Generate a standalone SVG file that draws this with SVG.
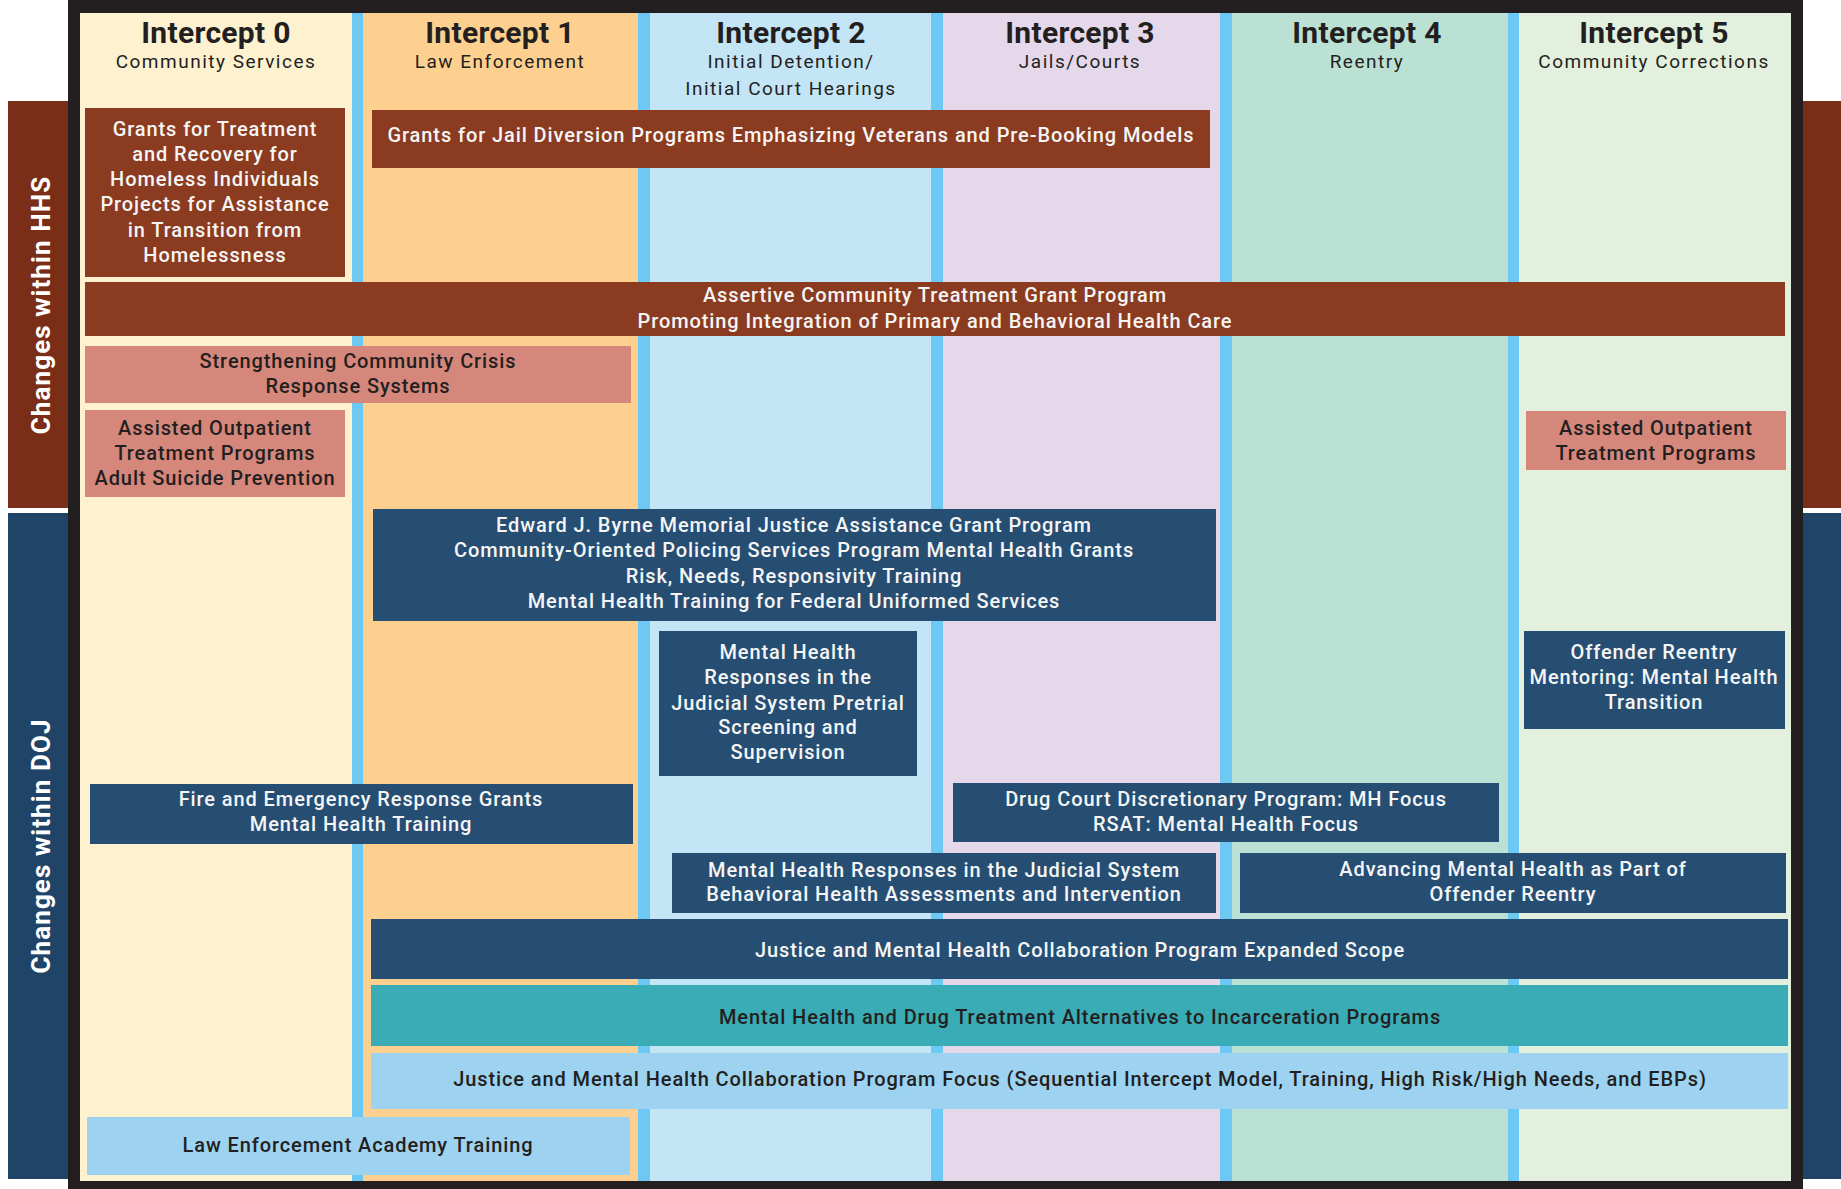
<svg xmlns="http://www.w3.org/2000/svg" width="1841" height="1189" viewBox="0 0 1841 1189">
<style>
text{font-family:Roboto,"Liberation Sans",sans-serif;text-anchor:middle}
.ttl{font-size:30px;font-weight:700;fill:#231f20;letter-spacing:0.3px}
.sub{font-size:19px;font-weight:400;fill:#231f20;letter-spacing:1.5px}
.w{font-size:20px;font-weight:500;fill:#f5f5f5;letter-spacing:0.9px}
.d{font-size:20px;font-weight:500;fill:#231f20;letter-spacing:0.9px}
.side{font-size:26px;font-weight:700;fill:#ffffff;letter-spacing:1.1px}
.brown{fill:#8b3b1f}
.salmon{fill:#d6877b}
.navy{fill:#264e72}
.teal{fill:#3aacb6}
.lblue{fill:#9dd3f0}
.div{fill:#6dc8f3}
</style>
<rect width="1841" height="1189" fill="#ffffff"/>
<g id="side-labels">
<rect x="8" y="101" width="61" height="407" fill="#7a2d17"/>
<rect x="8" y="513" width="61" height="666" fill="#1f4467"/>
<rect x="1802" y="101" width="39" height="407" fill="#7a2d17"/>
<rect x="1802" y="513" width="39" height="666" fill="#1f4467"/>
<text class="side" transform="translate(50,305) rotate(-90)">Changes within HHS</text>
<text class="side" transform="translate(50,846) rotate(-90)">Changes within DOJ</text>
</g>
<g id="frame">
<rect x="68" y="0" width="1735" height="1189" fill="#231f20"/>
</g>
<g id="columns">
<rect x="80" y="13" width="272" height="1168" fill="#fdf1cf"/>
<rect x="363" y="13" width="275" height="1168" fill="#fdd08f"/>
<rect x="650" y="13" width="281" height="1168" fill="#c4e5f5"/>
<rect x="943" y="13" width="277" height="1168" fill="#e5d8eb"/>
<rect x="1232" y="13" width="276" height="1168" fill="#bbe1d5"/>
<rect x="1519" y="13" width="272" height="1168" fill="#e2f0dd"/>
<rect class="div" x="352" y="13" width="11" height="1168"/>
<rect class="div" x="638" y="13" width="12" height="1168"/>
<rect class="div" x="931" y="13" width="12" height="1168"/>
<rect class="div" x="1220" y="13" width="12" height="1168"/>
<rect class="div" x="1508" y="13" width="11" height="1168"/>
</g>
<g id="headers">
<g id="intercept-0"><text class="ttl" x="216" y="43">Intercept 0</text><text class="sub" x="216" y="68">Community Services</text></g>
<g id="intercept-1"><text class="ttl" x="500" y="43">Intercept 1</text><text class="sub" x="500" y="68">Law Enforcement</text></g>
<g id="intercept-2"><text class="ttl" x="791" y="43">Intercept 2</text><text class="sub" x="791" y="68">Initial Detention/</text><text class="sub" x="791" y="95">Initial Court Hearings</text></g>
<g id="intercept-3"><text class="ttl" x="1080" y="43">Intercept 3</text><text class="sub" x="1080" y="68">Jails/Courts</text></g>
<g id="intercept-4"><text class="ttl" x="1367" y="43">Intercept 4</text><text class="sub" x="1367" y="68">Reentry</text></g>
<g id="intercept-5"><text class="ttl" x="1654" y="43">Intercept 5</text><text class="sub" x="1654" y="68">Community Corrections</text></g>
</g>
<g id="connectors"></g>
<g id="grants-treatment"><rect class="brown" x="85" y="108" width="260" height="169"/>
<text class="w" x="215" y="136">Grants for Treatment</text><text class="w" x="215" y="161">and Recovery for</text><text class="w" x="215" y="186">Homeless Individuals</text><text class="w" x="215" y="211">Projects for Assistance</text><text class="w" x="215" y="237">in Transition from</text><text class="w" x="215" y="262">Homelessness</text></g>
<g id="jail-diversion"><rect class="brown" x="372" y="110" width="838" height="58"/>
<text class="w" x="791" y="142">Grants for Jail Diversion Programs Emphasizing Veterans and Pre-Booking Models</text></g>
<g id="assertive"><rect class="brown" x="85" y="282" width="1700" height="54"/>
<text class="w" x="935" y="302">Assertive Community Treatment Grant Program</text><text class="w" x="935" y="328">Promoting Integration of Primary and Behavioral Health Care</text></g>
<g id="crisis"><rect class="salmon" x="85" y="346" width="546" height="57"/>
<text class="d" x="358" y="368">Strengthening Community Crisis</text><text class="d" x="358" y="393">Response Systems</text></g>
<g id="aot-left"><rect class="salmon" x="85" y="410" width="260" height="87"/>
<text class="d" x="215" y="435">Assisted Outpatient</text><text class="d" x="215" y="460">Treatment Programs</text><text class="d" x="215" y="485">Adult Suicide Prevention</text></g>
<g id="aot-right"><rect class="salmon" x="1526" y="411" width="260" height="59"/>
<text class="d" x="1656" y="435">Assisted Outpatient</text><text class="d" x="1656" y="460">Treatment Programs</text></g>
<g id="byrne"><rect class="navy" x="373" y="509" width="843" height="112"/>
<text class="w" x="794" y="532">Edward J. Byrne Memorial Justice Assistance Grant Program</text><text class="w" x="794" y="557">Community-Oriented Policing Services Program Mental Health Grants</text><text class="w" x="794" y="583">Risk, Needs, Responsivity Training</text><text class="w" x="794" y="608">Mental Health Training for Federal Uniformed Services</text></g>
<g id="pretrial"><rect class="navy" x="659" y="631" width="258" height="145"/>
<text class="w" x="788" y="659">Mental Health</text><text class="w" x="788" y="684">Responses in the</text><text class="w" x="788" y="710">Judicial System Pretrial</text><text class="w" x="788" y="734">Screening and</text><text class="w" x="788" y="759">Supervision</text></g>
<g id="mentoring"><rect class="navy" x="1524" y="631" width="261" height="98"/>
<text class="w" x="1654" y="659">Offender Reentry</text><text class="w" x="1654" y="684">Mentoring: Mental Health</text><text class="w" x="1654" y="709">Transition</text></g>
<g id="fire"><rect class="navy" x="90" y="784" width="543" height="60"/>
<text class="w" x="361" y="806">Fire and Emergency Response Grants</text><text class="w" x="361" y="831">Mental Health Training</text></g>
<g id="drug-court"><rect class="navy" x="953" y="783" width="546" height="59"/>
<text class="w" x="1226" y="806">Drug Court Discretionary Program: MH Focus</text><text class="w" x="1226" y="831">RSAT: Mental Health Focus</text></g>
<g id="judicial"><rect class="navy" x="672" y="853" width="544" height="60"/>
<text class="w" x="944" y="877">Mental Health Responses in the Judicial System</text><text class="w" x="944" y="901">Behavioral Health Assessments and Intervention</text></g>
<g id="advancing"><rect class="navy" x="1240" y="853" width="546" height="60"/>
<text class="w" x="1513" y="876">Advancing Mental Health as Part of</text><text class="w" x="1513" y="901">Offender Reentry</text></g>
<g id="jmhcp-expanded"><rect class="navy" x="371" y="919" width="1417" height="60"/>
<text class="w" x="1080" y="957">Justice and Mental Health Collaboration Program Expanded Scope</text></g>
<g id="alternatives"><rect class="teal" x="371" y="985" width="1417" height="61"/>
<text class="d" x="1080" y="1024">Mental Health and Drug Treatment Alternatives to Incarceration Programs</text></g>
<g id="jmhcp-focus"><rect class="lblue" x="371" y="1053" width="1417" height="56"/>
<text class="d" x="1080" y="1086">Justice and Mental Health Collaboration Program Focus (Sequential Intercept Model, Training, High Risk/High Needs, and EBPs)</text></g>
<g id="academy"><rect class="lblue" x="87" y="1117" width="543" height="58"/>
<text class="d" x="358" y="1152">Law Enforcement Academy Training</text></g>
</svg>
